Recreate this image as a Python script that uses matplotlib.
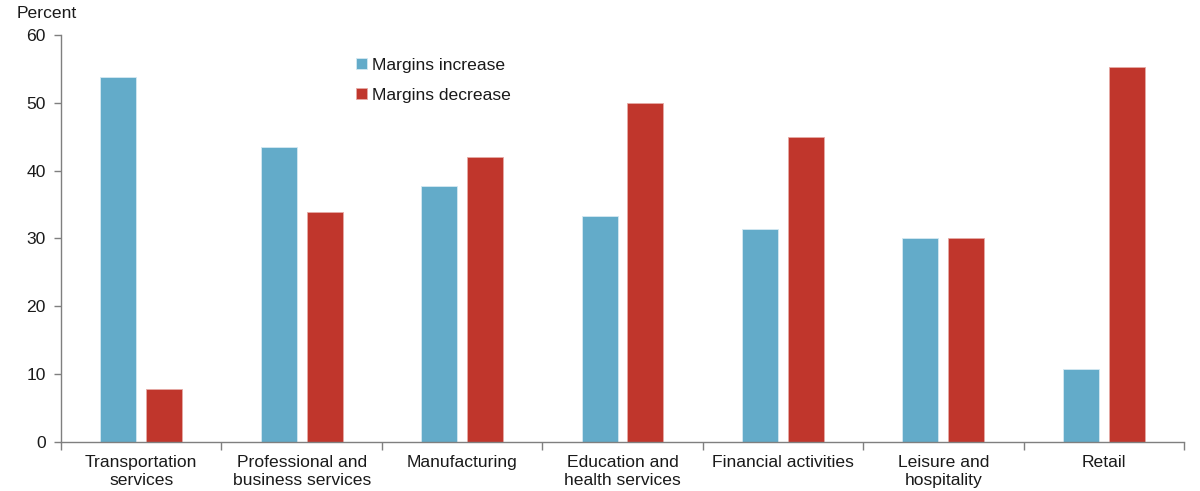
import matplotlib
matplotlib.use("Agg")
import matplotlib.pyplot as plt
import numpy as np

plt.rcParams['font.family'] = ['Liberation Sans', 'DejaVu Sans']

categories = ["Transportation\nservices", "Professional and\nbusiness services",
              "Manufacturing", "Education and\nhealth services",
              "Financial activities", "Leisure and\nhospitality", "Retail"]
margins_increase = [53.8, 43.5, 37.8, 33.3, 31.4, 30.0, 10.7]
margins_decrease = [7.7, 33.9, 42.0, 50.0, 45.0, 30.0, 55.4]
y_ticks = [0, 10, 20, 30, 40, 50, 60]

blue = "#63abc9"
red = "#c0362c"
axis_grey = "#7f7f7f"
text_col = "#1a1a1a"
fs = 12.6

fig = plt.figure(figsize=(12, 4.91), dpi=100)
ax = fig.add_axes([61 / 1200, 1 - 441.5 / 491, 1123 / 1200, 406.1 / 491])

x = np.arange(len(categories))
w = 0.224
off = 0.143
ax.bar(x - off, margins_increase, w, color=blue, edgecolor="#d4e9f2",
       linewidth=0.6, label="Margins increase", zorder=2)
ax.bar(x + off, margins_decrease, w, color=red, edgecolor="#e6aaa5",
       linewidth=0.6, label="Margins decrease", zorder=2)

ax.set_xlim(-0.5, len(categories) - 0.5)
ax.set_ylim(0, 60)
ax.set_yticks(y_ticks)
ax.set_yticklabels([str(t) for t in y_ticks], fontsize=fs, color=text_col)

ax.set_xticks(np.arange(-0.5, len(categories), 1.0))
ax.set_xticklabels([])
ax.tick_params(axis="x", direction="out", length=6, color=axis_grey, width=1)
ax.set_xticks(x, minor=True)
ax.set_xticklabels(categories, minor=True, fontsize=fs, color=text_col,
                   linespacing=1.25)
ax.tick_params(axis="x", which="minor", length=0, pad=10)
ax.tick_params(axis="y", direction="out", length=5, color=axis_grey, width=1,
               pad=6)

for s in ["top", "right"]:
    ax.spines[s].set_visible(False)
for s in ["left", "bottom"]:
    ax.spines[s].set_color(axis_grey)
    ax.spines[s].set_linewidth(1)

fig.text(17 / 1200, 1 - 14 / 491, "Percent", fontsize=fs, color=text_col,
         va="center", ha="left")

leg = ax.legend(loc="upper left", bbox_to_anchor=(356 / 1200, 1 - 58 / 491),
                bbox_transform=fig.transFigure, frameon=False, fontsize=fs,
                handlelength=0.6, handleheight=0.6, handletextpad=0.3,
                labelspacing=0.85, borderaxespad=0, borderpad=0)
for t in leg.get_texts():
    t.set_color(text_col)

fig.savefig("out.png", dpi=100)
